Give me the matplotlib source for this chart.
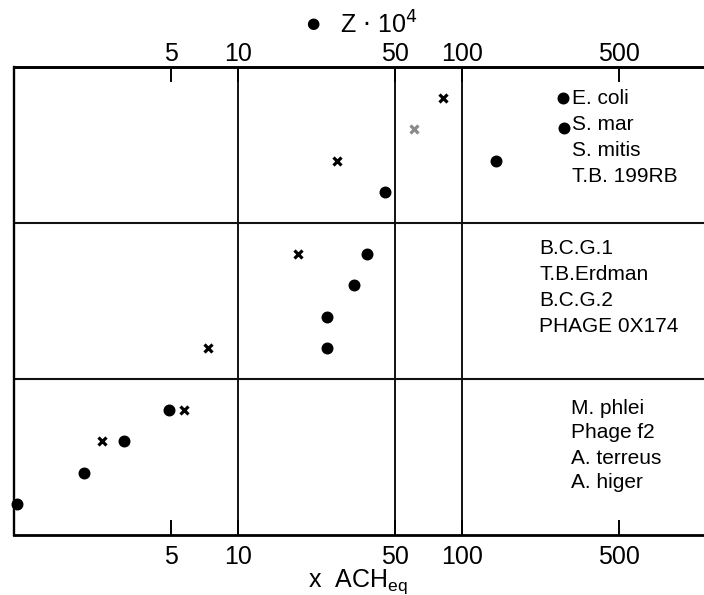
import matplotlib
matplotlib.use("Agg")
import matplotlib.pyplot as plt
from matplotlib.ticker import NullLocator, FixedLocator, FixedFormatter

plt.rcParams['font.family'] = ['Liberation Sans', 'DejaVu Sans']

# ---- data ----
tick_values = [5, 10, 50, 100, 500]
tick_labels = ["5", "10", "50", "100", "500"]
vlines_x = [10, 50, 100]
hlines_y = [1, 2]

dot_x = [1.03, 2.06, 3.10, 4.92, 24.8, 24.8, 32.7, 37.4, 45.0, 141.6, 281, 283]
dot_y = [0.2, 0.4, 0.6, 0.8, 1.2, 1.4, 1.6, 1.8, 2.2, 2.4, 2.8, 2.61]

cross_x = [2.48, 5.73, 7.33, 18.4, 27.7, 82.2]
cross_y = [0.6, 0.8, 1.2, 1.8, 2.4, 2.8]
cross_gray_x = [61.1]
cross_gray_y = [2.6]

group_top = ["E. coli", "S. mar", "S. mitis", "T.B. 199RB"]
group_mid = ["B.C.G.1", "T.B.Erdman", "B.C.G.2", "PHAGE 0X174"]
group_bot = ["M. phlei", "Phage f2", "A. terreus", "A. higer"]

title_marker = "\u25CF"
title_text = r"Z $\cdot$ 10$^4$"
xlabel_text = r"x  ACH$_{\mathregular{eq}}$"

# ---- figure ----
W, H = 704, 595
fig = plt.figure(figsize=(W / 100, H / 100), dpi=100)
ax_l, ax_r, ax_t, ax_b = 14, 704, 67, 535
ax = fig.add_axes([ax_l / W, 1 - ax_b / H, (ax_r - ax_l) / W, (ax_b - ax_t) / H])

ax.set_xscale('log')
ax.set_xlim(1.0, 1195)
ax.set_ylim(0, 3)

for xv in vlines_x:
    ax.axvline(xv, color='#111111', lw=1.4, zorder=1)
for yv in hlines_y:
    ax.axhline(yv, color='#111111', lw=1.5, zorder=1)

ax.plot(dot_x, dot_y, 'o', color='black', ms=7.6, clip_on=False, zorder=3)
ax.plot(cross_x, cross_y, 'x', color='black', ms=6.2, mew=2.3, zorder=3)
ax.plot(cross_gray_x, cross_gray_y, 'x', color='#8a8a8a', ms=6.2, mew=2.3, zorder=3)

# spines
ax.spines['right'].set_visible(False)
ax.spines['top'].set_linewidth(2.1)
ax.spines['bottom'].set_linewidth(2.0)
ax.spines['left'].set_linewidth(1.7)

# bottom ticks
ax.xaxis.set_major_locator(FixedLocator(tick_values))
ax.xaxis.set_major_formatter(FixedFormatter(tick_labels))
ax.xaxis.set_minor_locator(NullLocator())
ax.tick_params(axis='x', which='major', direction='in', length=11, width=1.4,
               top=True, labeltop=False, bottom=True, labelbottom=True,
               labelsize=18, pad=7.5)
ax.set_yticks([])

# top tick labels via secondary axis
sec = ax.secondary_xaxis('top')
sec.set_xscale('log')
sec.xaxis.set_major_locator(FixedLocator(tick_values))
sec.xaxis.set_major_formatter(FixedFormatter(tick_labels))
sec.xaxis.set_minor_locator(NullLocator())
sec.tick_params(axis='x', which='major', direction='in', length=0, labelsize=18, pad=1)
sec.spines['top'].set_visible(False)

fig.text(313 / W, 1 - 24 / H, title_marker, ha='center', va='center', fontsize=11,
         family=['DejaVu Sans'])
fig.text(340 / W, 1 - 25 / H, title_text, ha='left', va='center', fontsize=18)
fig.text(358 / W, 1 - 587 / H, xlabel_text, ha='center', va='baseline', fontsize=18)

def place(names, x_px, y_px_list):
    for name, ypx in zip(names, y_px_list):
        ax.text((x_px - ax_l) / (ax_r - ax_l), (ax_b - ypx) / (ax_b - ax_t), name,
                transform=ax.transAxes, ha='left', va='center', fontsize=15)

place(group_top, 572, [99, 125, 150, 176])
place(group_mid, 539, [248, 274, 301, 327])
place(group_bot, 571, [408, 433, 458, 483])

fig.savefig("out.png", dpi=100)
